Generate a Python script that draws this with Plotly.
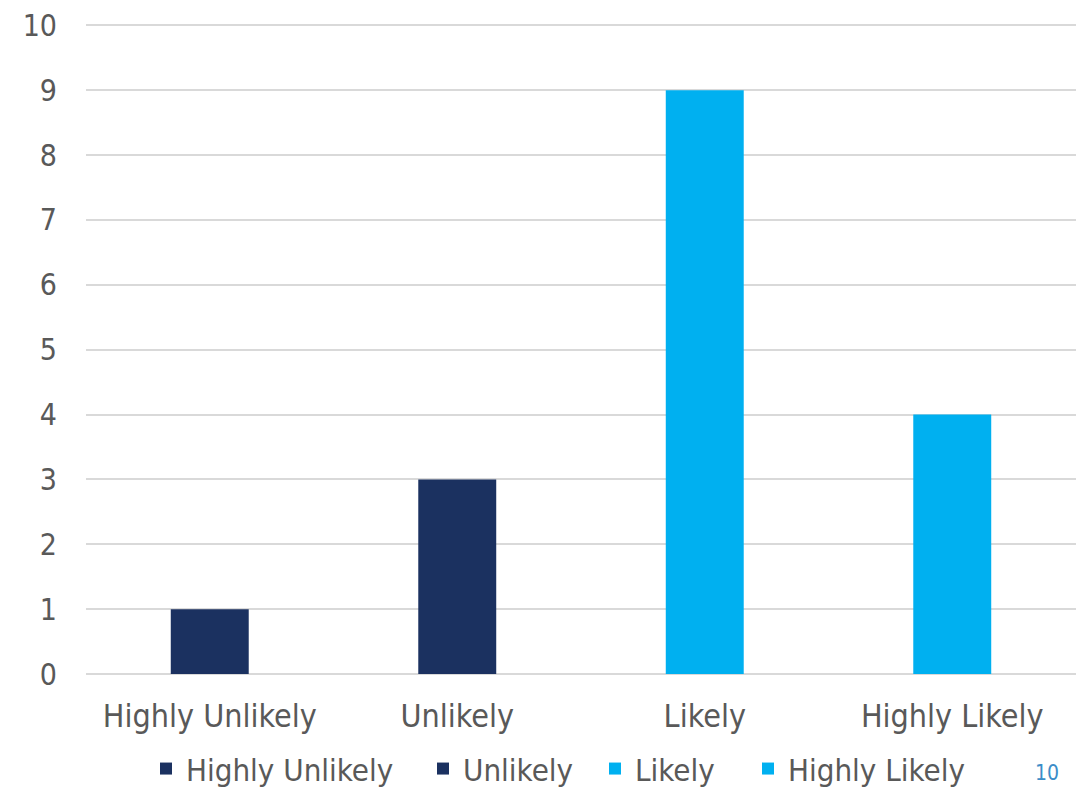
import plotly.graph_objects as go

categories = ["Highly Unlikely", "Unlikely", "Likely", "Highly Likely"]
values = [1, 3, 9, 4]
colors = ["#1B3160", "#1B3160", "#00B0F0", "#00B0F0"]
y_ticks = list(range(0, 11))

FONT = "DejaVu Sans Condensed"
TXT = "#595959"

# legend square left edges (screen px) for each entry
legend_px = [160, 437, 609, 762]
legend_ids = ["legend", "legend2", "legend3", "legend4"]

fig = go.Figure()
for cat, val, col, lid in zip(categories, values, colors, legend_ids):
    fig.add_trace(go.Bar(x=[cat], y=[val], name=cat, marker=dict(color=col, line=dict(width=0)),
                         width=0.315, legend=lid))

PL, PW = 86, 990
leg_common = dict(orientation="h", y=-0.146, yanchor="middle", xanchor="left",
                  font=dict(family=FONT, size=31, color=TXT), itemwidth=30,
                  bgcolor="rgba(0,0,0,0)")
legends = {}
for lid, px in zip(legend_ids, legend_px):
    legends[lid] = dict(leg_common, x=(px - 14 - PL) / PW)

# page body has an 8px default margin, so the figure is sized to fit the window
fig.update_layout(
    width=1084, height=782,
    margin=dict(l=78, r=16, t=16, b=116, autoexpand=False),
    paper_bgcolor="white", plot_bgcolor="white",
    barmode="overlay",
    font=dict(family=FONT, size=31, color=TXT),
    showlegend=True,
    xaxis=dict(type="category", categoryorder="array", categoryarray=categories,
               range=[-0.5, 3.5], showgrid=False, showline=False, ticks="",
               ticklabelstandoff=20,
               tickfont=dict(family=FONT, size=32, color=TXT)),
    yaxis=dict(range=[0, 10.02], tickvals=y_ticks, showgrid=True, gridcolor="#D9D9D9", gridwidth=2,
               zeroline=True, zerolinecolor="#D9D9D9", zerolinewidth=2, showline=False,
               ticks="", ticklabelstandoff=28, ticklabeloverflow="allow",
               tickfont=dict(family=FONT, size=30, color=TXT)),
    annotations=[dict(text="10", xref="paper", yref="paper", x=0.971, y=-0.153,
                      showarrow=False, font=dict(family=FONT, size=21, color="#3C8DC8"),
                      xanchor="center", yanchor="middle")],
    **legends,
)

fig.write_html("out.html")
